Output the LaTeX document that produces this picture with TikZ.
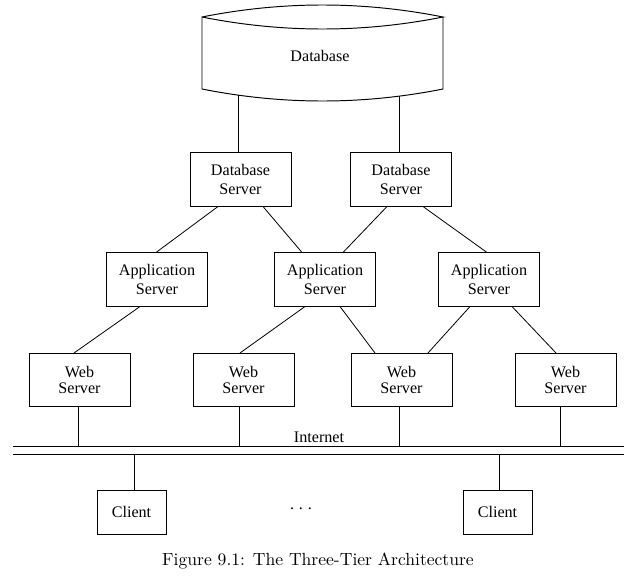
\documentclass[tikz,border=0pt]{standalone}
\usepackage{fontspec}
\newfontfamily\figfont{Liberation Serif}
\usetikzlibrary{calc}

\begin{document}
\begin{tikzpicture}[
  x=0.62pt, y=-0.62pt,
  every node/.style={font=\figfont\fontsize{10}{11.8}\selectfont},
  srv/.style={draw,line width=0.6pt,minimum width=62.6pt,minimum height=32.9pt,
    inner sep=0pt,align=center},
  web/.style={srv,font=\figfont\fontsize{10}{10.5}\selectfont},
  cl/.style={srv,minimum width=42.8pt,minimum height=27.3pt},
  ln/.style={line width=0.5pt}
]
  \useasboundingbox (0,0) rectangle (633,582);
  % database drum
  \draw[ln,line width=0.6pt] (202,17) .. controls (282.3,1) and (362.7,1) .. (443,17)
    .. controls (362.7,33) and (282.3,33) .. (202,17) -- (202,89)
    .. controls (282.3,105) and (362.7,105) .. (443,89) -- (443,17);
  \node (db) at (320,56) {Database};
  \coordinate (dbl) at (238,95.1);
  \coordinate (dbr) at (399,96.2);
  % tiers
  \node[srv] (db1) at (240.5,179.5) {Database\\Server};
  \node[srv] (db2) at (401,179.5) {Database\\Server};
  \node[srv] (app1) at (157,279.5) {Application\\Server};
  \node[srv] (app2) at (325,279.5) {Application\\Server};
  \node[srv] (app3) at (489,279.5) {Application\\Server};
  \node[web] (web1) at (79.5,380) {Web\\Server};
  \node[web] (web2) at (243.5,380) {Web\\Server};
  \node[web] (web3) at (401.5,380) {Web\\Server};
  \node[web] (web4) at (565.5,380) {Web\\Server};
  \node[cl] (cl1) at (131.5,512) {Client};
  \node[cl] (cl2) at (497.5,512) {Client};
  \node (dots) at (301,509) {.\hspace{3pt}.\hspace{3pt}.};
  % internet
  \coordinate (inw) at (13,446);
  \coordinate (ine) at (624,446);
  \coordinate (onw) at (13,454);
  \coordinate (one) at (624,454);
  \draw[ln] (inw) -- (ine);
  \draw[ln] (onw) -- (one);
  \node (net) at (319,437) {Internet};
  % links
  \draw[ln] (dbl) -- (dbl |- db1.north);
  \draw[ln] (dbr) -- (dbr |- db2.north);
  \foreach \p/\px/\q/\qx in {db1/-22.5/app1/-1,db1/22.5/app2/-23,
      db2/-14/app2/18,db2/22/app3/-2,app1/-17/web1/-5.5,app2/-20/web2/-3.5,
      app2/15/web3/-26.5,app3/-19/web3/26.5,app3/23/web4/-9.5}
    {\draw[ln] ($(\p.south)+(\px,0)$) -- ($(\q.north)+(\qx,0)$);}
  \foreach \w/\wx in {web1/-1.5,web2/-4.5,web3/-2.5,web4/-5.5}
    {\draw[ln] ($(\w.south)+(\wx,0)$) coordinate (t) -- (t |- inw);}
  \foreach \c/\cx in {cl1/2.5,cl2/1.5}
    {\draw[ln] ($(\c.north)+(\cx,0)$) coordinate (t) -- (t |- onw);}
  \node[font=\normalfont\fontsize{10.9}{13}\selectfont] (cap) at (318,561)
    {Figure 9.1: The Three-Tier Architecture};
\end{tikzpicture}
\end{document}
